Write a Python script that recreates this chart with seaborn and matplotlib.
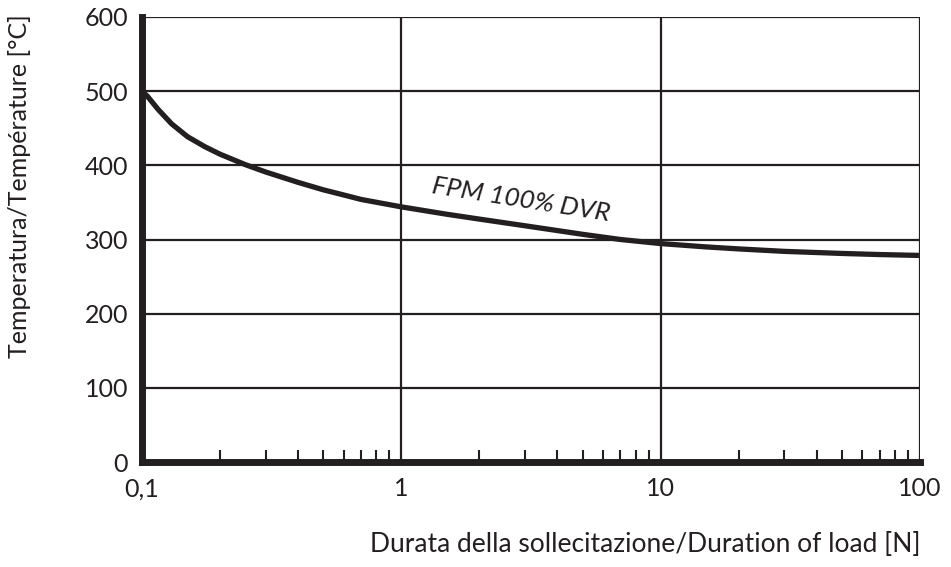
import numpy as np
import pandas as pd
import matplotlib
matplotlib.use("Agg")
import matplotlib.pyplot as plt
import seaborn as sns
from matplotlib.ticker import FixedLocator, LogLocator, NullFormatter

# values
duration = [0.1, 0.105, 0.115, 0.13, 0.15, 0.175, 0.2, 0.25, 0.3, 0.4, 0.5, 0.6, 0.7,
            1, 1.5, 2, 3, 5, 7, 10, 15, 20, 30, 50, 70, 100]
temperature = [500, 493, 476, 456, 438.5, 425, 415, 401, 391, 377, 367, 360, 354,
               344, 334, 327.5, 318.5, 307, 300, 294.5, 290, 287.3, 284, 281.2, 279.7, 278.5]
x_ticks = [0.1, 1, 10, 100]
x_tick_labels = ["0,1", "1", "10", "100"]
y_ticks = [0, 100, 200, 300, 400, 500, 600]

sns.set_style("white")
plt.rcParams['font.family'] = ['Lato', 'DejaVu Sans']

data = pd.DataFrame({"duration": duration, "temperature": temperature})

fig = plt.figure(figsize=(9.51, 5.67), dpi=100)
ax = fig.add_axes([142 / 951, 105 / 567, 778 / 951, 445 / 567])

sns.lineplot(data=data, x="duration", y="temperature", ax=ax, color="#231f20",
             linewidth=3.8, zorder=3)

ax.set_xscale("log")
ax.set_xlim(0.1, 100)
ax.set_ylim(0, 600)

# grid at the decades and every 100 degrees
ax.xaxis.set_major_locator(FixedLocator(x_ticks))
ax.set_xticklabels(x_tick_labels)
ax.xaxis.set_minor_locator(LogLocator(base=10, subs=np.arange(2, 10)))
ax.xaxis.set_minor_formatter(NullFormatter())
ax.set_yticks(y_ticks)
ax.grid(True, which="major", color="#231f20", linewidth=1.6)
ax.set_axisbelow(True)

ax.tick_params(axis="x", which="major", bottom=True, length=0, pad=11,
               labelsize=18, labelcolor="#231f20")
ax.tick_params(axis="x", which="minor", bottom=True, direction="in", length=9,
               width=1.5, color="#231f20")
ax.tick_params(axis="y", which="major", left=True, length=0, pad=10,
               labelsize=18, labelcolor="#231f20")

for side in ["top", "right"]:
    ax.spines[side].set_visible(False)
for side in ["left", "bottom"]:
    ax.spines[side].set_linewidth(5)
    ax.spines[side].set_color("#231f20")
    ax.spines[side].set_zorder(4)

ax.set_xlabel("")
ax.set_ylabel("")

ax.text(2.9, 354, "FPM 100% DVR", rotation=-9, ha="center", va="center",
        fontsize=19, style="italic", color="#231f20", rotation_mode="anchor")

fig.text(920 / 951, 22 / 567, "Durata della sollecitazione/Duration of load [N]",
         ha="right", va="center", fontsize=19, color="#231f20")
fig.text(20 / 951, 1 - 14 / 567, "Temperatura/Température [°C]", rotation=90,
         ha="center", va="top", fontsize=18, color="#231f20")

fig.savefig("out.png", dpi=100)
